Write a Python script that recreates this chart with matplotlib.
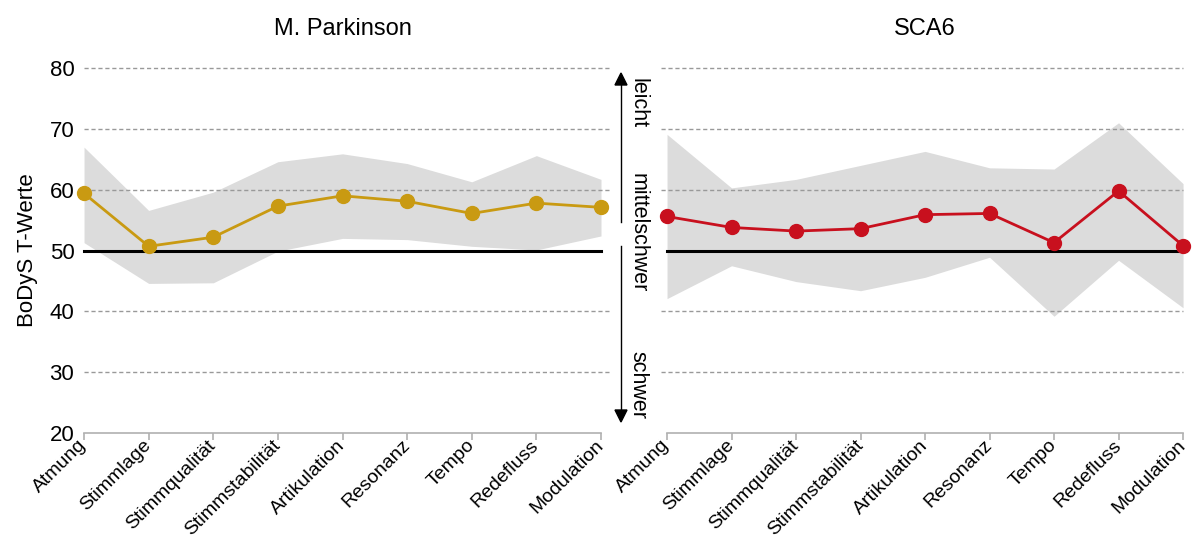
import numpy as np
import matplotlib.pyplot as plt

plt.rcParams['font.family'] = ['Liberation Sans', 'DejaVu Sans']

# categories
kategorien = ["Atmung", "Stimmlage", "Stimmqualität", "Stimmstabilität",
              "Artikulation", "Resonanz", "Tempo", "Redefluss", "Modulation"]

# M. Parkinson
pd_mittel = [59.4, 50.7, 52.2, 57.3, 59.0, 58.1, 56.1, 57.8, 57.1]
pd_oben = [67.0, 56.6, 59.6, 64.6, 65.9, 64.3, 61.3, 65.6, 61.7]
pd_unten = [51.3, 44.6, 44.7, 49.9, 52.0, 51.8, 50.7, 50.1, 52.4]

# SCA6
sca_mittel = [55.6, 53.8, 53.2, 53.6, 55.9, 56.1, 51.3, 59.8, 50.8]
sca_oben = [69.1, 60.3, 61.7, 64.0, 66.3, 63.6, 63.4, 71.0, 61.0]
sca_unten = [42.1, 47.5, 44.9, 43.4, 45.6, 48.9, 39.2, 48.4, 40.6]

gitter = [30, 40, 60, 70, 80]
yticks = [20, 30, 40, 50, 60, 70, 80]

fig = plt.figure(figsize=(11.92, 5.4), dpi=100)
ax1 = fig.add_axes([0.0705, 0.198, 0.4337, 0.676])
ax2 = fig.add_axes([0.5596, 0.198, 0.4329, 0.676])

x = np.arange(len(kategorien))


def panel(ax, titel, mittel, oben, unten, farbe, gx0, gx1):
    ax.fill_between(x, unten, oben, color="#dcdcdc", lw=0, zorder=1)
    for g in gitter:
        ax.plot([gx0, gx1], [g, g], ls=(0, (3, 2)), color="#999999", lw=1.0,
                clip_on=False, zorder=2)
    ax.plot([0, 8], [50, 50], color="black", lw=2.2, zorder=3, clip_on=False)
    ax.plot(x, mittel, color=farbe, lw=2, marker="o", markersize=10,
            zorder=4, clip_on=False)
    ax.set_xlim(0, 8)
    ax.set_ylim(20, 80)
    for s in ["top", "right", "left"]:
        ax.spines[s].set_visible(False)
    ax.spines["bottom"].set_color("#b0b0b0")
    ax.spines["bottom"].set_linewidth(1.2)
    ax.set_xticks(x)
    ax.set_xticklabels(kategorien, rotation=45, ha="right", va="center",
                       rotation_mode="anchor", fontsize=14)
    ax.tick_params(axis="x", colors="#b0b0b0", length=5, width=1.2,
                   labelcolor="black", pad=2)
    ax.set_title(titel, fontsize=17, pad=24)


panel(ax1, "M. Parkinson", pd_mittel, pd_oben, pd_unten, "#c99a12", 0, 8.14)
panel(ax2, "SCA6", sca_mittel, sca_oben, sca_unten, "#c8101e", -0.1, 8)

ax1.set_yticks(yticks)
ax1.set_yticklabels([str(v) for v in yticks], fontsize=16)
ax1.tick_params(axis="y", length=0, pad=7)
ax1.set_ylabel("BoDyS T-Werte", fontsize=16, labelpad=8)
ax2.set_yticks([])

# severity scale between the panels
lx = 621 / 1192
fig.add_artist(plt.Line2D([lx, lx], [1 - 222 / 540, 1 - 82 / 540],
                          color="black", lw=1))
fig.add_artist(plt.Line2D([lx, lx], [1 - 246 / 540, 1 - 412 / 540],
                          color="black", lw=1))
fig.patches.append(plt.Polygon([[lx - 6 / 1192, 1 - 85 / 540], [lx + 6 / 1192, 1 - 85 / 540],
                                [lx, 1 - 73 / 540]], closed=True,
                               color="black", transform=fig.transFigure, figure=fig))
fig.patches.append(plt.Polygon([[lx - 6 / 1192, 1 - 410 / 540], [lx + 6 / 1192, 1 - 410 / 540],
                                [lx, 1 - 422 / 540]], closed=True,
                               color="black", transform=fig.transFigure, figure=fig))
fig.text(638 / 1192, 1 - 103 / 540, "leicht", rotation=-90, fontsize=15.5,
         ha="center", va="center")
fig.text(638 / 1192, 1 - 233 / 540, "mittelschwer", rotation=-90, fontsize=15.5,
         ha="center", va="center")
fig.text(638 / 1192, 1 - 385 / 540, "schwer", rotation=-90, fontsize=15.5,
         ha="center", va="center")

fig.savefig("out.png", dpi=100)
